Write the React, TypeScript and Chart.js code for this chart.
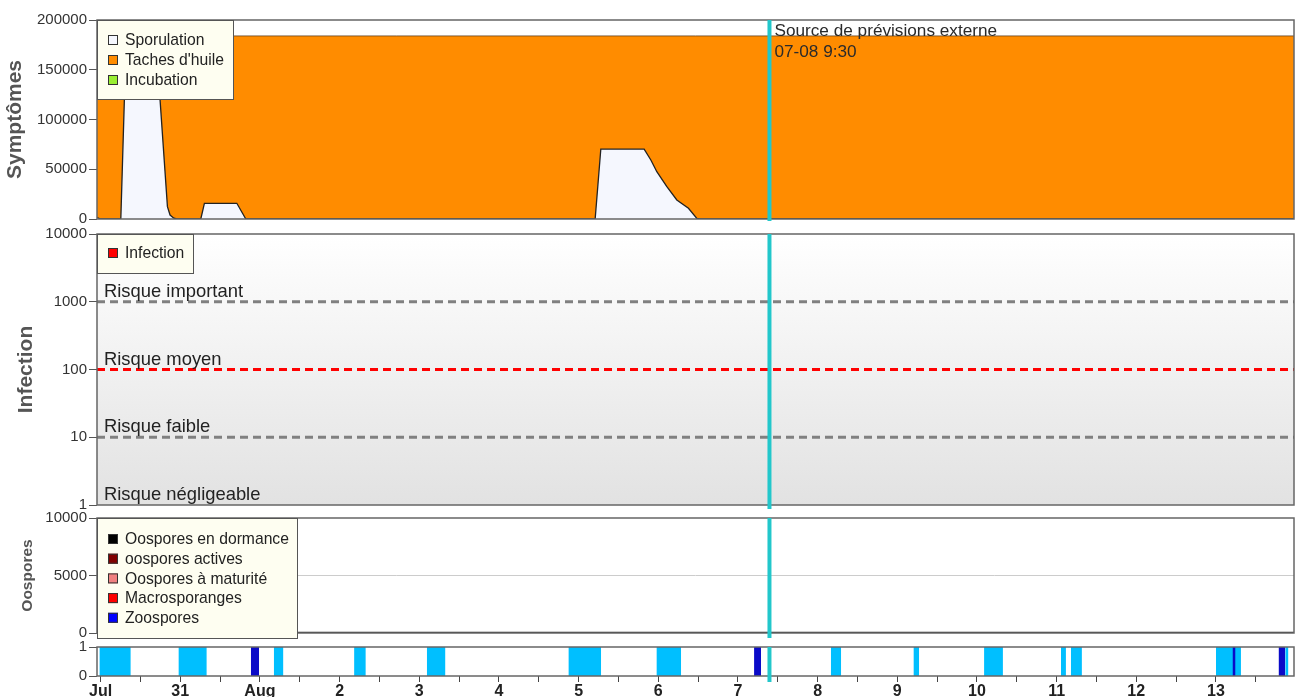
import React, { useEffect, useRef } from "react";
import { Chart, registerables } from "chart.js";

Chart.register(...registerables);

const FONT = "'Liberation Sans', Arial, Helvetica, sans-serif";
Chart.defaults.font.family = FONT;

// ---------- X axis (days since 30 July 00:00) ----------
const xMin = -0.045;
const xMax = 14.98;
const dayTickLabels = ["Jul", "31", "Aug", "2", "3", "4", "5", "6", "7", "8", "9", "10", "11", "12", "13"];
const forecastDay = 8.396;
const forecastText = ["Source de prévisions externe", "07-08 9:30"];

// ---------- Symptômes ----------
const symptomTicks = [0, 50000, 100000, 150000, 200000];
const tachesDays = [-0.045, 14.98];
const tachesValues = [184000, 184000];
const sporulationDays = [
  -0.045, 0.0, 0.254, 0.319, 0.699, 0.839, 0.872, 0.92, 0.957,
  1.258, 1.303, 1.71, 1.823,
  6.208, 6.279, 6.823, 6.907, 6.982, 7.108, 7.233, 7.379, 7.484, 7.526,
  14.98,
];
const sporulationValues = [
  1500, 0, 0, 175000, 175000, 12400, 4000, 800, 0,
  0, 15800, 15800, 0,
  0, 70300, 70300, 59300, 47500, 32500, 19100, 10750, 700, 0,
  0,
];
const symptomLegendLabels = ["Sporulation", "Taches d'huile", "Incubation"];
const symptomLegendColors = ["#F5F7FE", "#FF8C00", "#99EE33"];

// ---------- Infection ----------
const infectionTicks = [1, 10, 100, 1000, 10000];
const riskLineLevels = [1000, 100, 10];
const riskLineColors = ["#808080", "#FF0000", "#808080"];
const riskLabelLevels = [1000, 100, 10, 1];
const riskLabels = ["Risque important", "Risque moyen", "Risque faible", "Risque négligeable"];
const infectionLegendLabels = ["Infection"];
const infectionLegendColors = ["#FF0000"];

// ---------- Oospores ----------
const oosporeTicks = [0, 5000, 10000];
const oosporeDays = [-0.045, 14.98];
const oosporeValues = [0, 0];
const oosporeLegendLabels = ["Oospores en dormance", "oospores actives", "Oospores à maturité", "Macrosporanges", "Zoospores"];
const oosporeLegendColors = ["#000000", "#800000", "#F08080", "#FF0000", "#0000FF"];

// ---------- Bottom strip ----------
const stripTicks = [0, 1];
const wetStart = [-0.015, 0.977, 2.174, 3.182, 4.095, 5.872, 6.977, 9.166, 10.203, 11.09, 12.054, 12.179, 14.0, 14.87];
const wetEnd = [0.379, 1.333, 2.295, 3.329, 4.329, 6.283, 7.287, 9.296, 10.275, 11.326, 12.117, 12.318, 14.314, 14.91];
const rainStart = [1.886, 8.203, 14.208, 14.786];
const rainEnd = [1.99, 8.291, 14.246, 14.87];

const PLOT_LEFT = 97;
const CANVAS_W = 1298;

type LegendSpec = { width: number; height: number; firstRow: number; rowGap: number; labels: string[]; colors: string[] };
type OverlaySpec = {
  gradient?: [string, string];
  legend?: LegendSpec;
  forecastExtend: number;
  showForecastText?: boolean;
  showRiskLabels?: boolean;
};

function overlayPlugin(o: OverlaySpec) {
  return {
    id: "overlay",
    beforeDraw(chart: any) {
      if (!o.gradient) return;
      const { ctx, chartArea: a } = chart;
      const g = ctx.createLinearGradient(0, a.top, 0, a.bottom);
      g.addColorStop(0, o.gradient[0]);
      g.addColorStop(1, o.gradient[1]);
      ctx.save();
      ctx.fillStyle = g;
      ctx.fillRect(a.left, a.top, a.right - a.left, a.bottom - a.top);
      ctx.restore();
    },
    afterDraw(chart: any) {
      const { ctx, chartArea: a } = chart;
      const xs = chart.scales.x;
      const ys = chart.scales.y;
      ctx.save();
      // risk labels
      if (o.showRiskLabels) {
        ctx.font = `18.4px ${FONT}`;
        ctx.fillStyle = "#222";
        ctx.textBaseline = "alphabetic";
        ctx.textAlign = "left";
        riskLabelLevels.forEach((lv, i) => {
          ctx.fillText(riskLabels[i], a.left + 7, ys.getPixelForValue(lv) - 5);
        });
      }
      // plot border
      ctx.strokeStyle = "#666";
      ctx.lineWidth = 1.5;
      ctx.strokeRect(a.left, a.top, a.right - a.left, a.bottom - a.top);
      // forecast line
      const fx = xs.getPixelForValue(forecastDay);
      ctx.strokeStyle = "#22C7CB";
      ctx.lineWidth = 4;
      ctx.beginPath();
      ctx.moveTo(fx, a.top);
      ctx.lineTo(fx, a.bottom + o.forecastExtend);
      ctx.stroke();
      if (o.showForecastText) {
        ctx.font = `17.2px ${FONT}`;
        ctx.fillStyle = "#2a2a2a";
        ctx.textAlign = "left";
        ctx.textBaseline = "alphabetic";
        ctx.fillText(forecastText[0], fx + 5, a.top + 16);
        ctx.fillText(forecastText[1], fx + 5, a.top + 37);
      }
      // legend
      if (o.legend) {
        const L = o.legend;
        ctx.fillStyle = "#FEFEF1";
        ctx.fillRect(a.left, a.top, L.width, L.height);
        ctx.strokeStyle = "#555";
        ctx.lineWidth = 1;
        ctx.strokeRect(a.left + 0.5, a.top + 0.5, L.width, L.height);
        ctx.font = `15.7px ${FONT}`;
        ctx.textBaseline = "middle";
        ctx.textAlign = "left";
        L.labels.forEach((lab, i) => {
          const cy = a.top + L.firstRow + i * L.rowGap;
          ctx.fillStyle = L.colors[i];
          ctx.fillRect(a.left + 11, cy - 5, 10, 10);
          ctx.strokeStyle = "#333";
          ctx.strokeRect(a.left + 11.5, cy - 4.5, 9, 9);
          ctx.fillStyle = "#222";
          ctx.fillText(lab, a.left + 28, cy + 1);
        });
      }
      ctx.restore();
    },
  };
}

function yAxis(ticks: number[], title: string, titleSize: number, titlePad: number, extra: any = {}) {
  return {
    min: ticks[0],
    max: ticks[ticks.length - 1],
    afterFit: (s: any) => {
      s.width = PLOT_LEFT;
    },
    afterBuildTicks: (s: any) => {
      s.ticks = ticks.map((v) => ({ value: v }));
    },
    ticks: { font: { size: 15 }, color: "#333", padding: 2, autoSkip: false, callback: (v: any) => String(v) },
    grid: { drawOnChartArea: false, tickLength: 8, color: "#555", tickColor: "#555" },
    border: { display: false },
    title: {
      display: title !== "",
      text: title,
      color: "#555",
      font: { size: titleSize, weight: "bold" },
      padding: { top: titlePad, bottom: 0 },
    },
    ...extra,
  };
}

const hiddenX = { type: "linear", min: xMin, max: xMax, display: false };

function baseOptions(padTop: number, padBottom: number, x: any, y: any) {
  return {
    responsive: false,
    animation: false,
    events: [],
    layout: { padding: { top: padTop, bottom: padBottom, left: 0, right: CANVAS_W - 1294 } },
    plugins: { legend: { display: false }, tooltip: { enabled: false } },
    elements: { point: { radius: 0 }, line: { tension: 0 } },
    scales: { x, y },
  };
}

function pts(days: number[], values: number[]) {
  return days.map((d, i) => ({ x: d, y: values[i] }));
}

function symptomConfig(): any {
  return {
    type: "line",
    data: {
      datasets: [
        {
          label: "Sporulation",
          data: pts(sporulationDays, sporulationValues),
          borderColor: "#222",
          borderWidth: 1.3,
          backgroundColor: "#F5F7FE",
          fill: "origin",
        },
        {
          label: "Taches d'huile",
          data: pts(tachesDays, tachesValues),
          borderColor: "rgba(90,55,20,0.75)",
          borderWidth: 1,
          backgroundColor: "#FF8C00",
          fill: "origin",
        },
      ],
    },
    options: baseOptions(12, 12, hiddenX, yAxis(symptomTicks, "Symptômes", 21, 2.5)),
    plugins: [
      overlayPlugin({
        forecastExtend: 2,
        showForecastText: true,
        legend: { width: 136, height: 79, firstRow: 20, rowGap: 20, labels: symptomLegendLabels, colors: symptomLegendColors },
      }),
    ],
  };
}

function infectionConfig(): any {
  return {
    type: "line",
    data: {
      datasets: riskLineLevels.map((lv, i) => ({
        label: "risk" + lv,
        data: [
          { x: xMin, y: lv },
          { x: xMax, y: lv },
        ],
        borderColor: riskLineColors[i],
        borderWidth: 3,
        borderDash: [8, 5],
        fill: false,
      })),
    },
    options: baseOptions(12, 12, hiddenX, yAxis(infectionTicks, "Infection", 21, 13.5, { type: "logarithmic" })),
    plugins: [
      overlayPlugin({
        gradient: ["#FFFFFF", "#E2E2E2"],
        forecastExtend: 4,
        showRiskLabels: true,
        legend: { width: 96, height: 39, firstRow: 19, rowGap: 20, labels: infectionLegendLabels, colors: infectionLegendColors },
      }),
    ],
  };
}

function oosporeConfig(): any {
  const y = yAxis(oosporeTicks, "Oospores", 15.5, 18.5);
  y.grid = {
    drawOnChartArea: true,
    tickLength: 8,
    tickColor: "#555",
    color: (c: any) => (c.tick && c.tick.value === 5000 ? "#CCCCCC" : "rgba(0,0,0,0)"),
  } as any;
  return {
    type: "line",
    data: {
      datasets: [
        {
          label: "Oospores en dormance",
          data: pts(oosporeDays, oosporeValues),
          borderColor: "#333",
          borderWidth: 2.5,
          fill: false,
        },
      ],
    },
    options: baseOptions(12, 12, hiddenX, y),
    plugins: [
      overlayPlugin({
        forecastExtend: 5,
        legend: { width: 200, height: 120, firstRow: 21, rowGap: 19.7, labels: oosporeLegendLabels, colors: oosporeLegendColors },
      }),
    ],
  };
}

function stripConfig(): any {
  const rainSets = rainStart.map((s, i) => ({
    label: "rain" + i,
    data: [
      { x: s, y: 1 },
      { x: rainEnd[i], y: 1 },
    ],
    borderColor: "rgba(0,0,0,0)",
    borderWidth: 0,
    backgroundColor: "#0A0AC8",
    fill: "origin",
  }));
  const wetSets = wetStart.map((s, i) => ({
    label: "wet" + i,
    data: [
      { x: s, y: 1 },
      { x: wetEnd[i], y: 1 },
    ],
    borderColor: "rgba(0,0,0,0)",
    borderWidth: 0,
    backgroundColor: "#00BFFF",
    fill: "origin",
  }));
  const x = {
    type: "linear",
    min: xMin,
    max: xMax,
    position: "bottom",
    afterFit: (s: any) => {
      s.height = 30;
    },
    afterBuildTicks: (s: any) => {
      s.ticks = dayTickLabels.flatMap((_, i) => [{ value: i }, { value: i + 0.5 }]).filter((t) => t.value <= xMax);
    },
    ticks: {
      font: { size: 16, weight: "bold" },
      color: "#222",
      padding: 0,
      autoSkip: false,
      maxRotation: 0,
      callback: (v: any) => (Number.isInteger(v) ? dayTickLabels[v] : ""),
    },
    grid: { drawOnChartArea: false, tickLength: 6, color: "#444", tickColor: "#444" },
    border: { display: false },
  };
  return {
    type: "line",
    data: { datasets: [...rainSets, ...wetSets] },
    options: baseOptions(10, 0, x, yAxis(stripTicks, "", 12, 0)),
    plugins: [overlayPlugin({ forecastExtend: 6 })],
  };
}

export default function App() {
  const r1 = useRef<HTMLCanvasElement>(null);
  const r2 = useRef<HTMLCanvasElement>(null);
  const r3 = useRef<HTMLCanvasElement>(null);
  const r4 = useRef<HTMLCanvasElement>(null);

  useEffect(() => {
    const charts = [
      new Chart(r1.current!, symptomConfig()),
      new Chart(r2.current!, infectionConfig()),
      new Chart(r3.current!, oosporeConfig()),
      new Chart(r4.current!, stripConfig()),
    ];
    return () => charts.forEach((c) => c.destroy());
  }, []);

  const cs = (top: number): React.CSSProperties => ({ position: "absolute", left: 0, top });

  return (
    <div style={{ position: "fixed", left: 0, top: 0, width: CANVAS_W, height: 697, overflow: "hidden", background: "#fff" }}>
      <canvas ref={r1} width={CANVAS_W} height={223} style={cs(8)} />
      <canvas ref={r2} width={CANVAS_W} height={295} style={cs(222)} />
      <canvas ref={r3} width={CANVAS_W} height={139} style={cs(506)} />
      <canvas ref={r4} width={CANVAS_W} height={70} style={cs(636)} />
    </div>
  );
}
